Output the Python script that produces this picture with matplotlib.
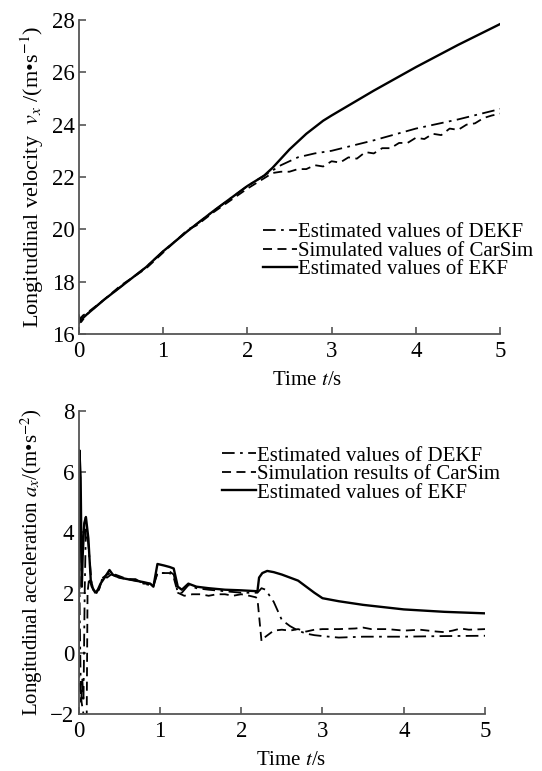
import matplotlib
matplotlib.use("Agg")
import matplotlib.pyplot as plt

plt.rcParams['font.family'] = ['Liberation Serif', 'DejaVu Serif']
plt.rcParams['mathtext.fontset'] = 'stix'

# longitudinal velocity, m/s
t_v_dekf = [0, 0.03, 0.1, 0.3, 0.5, 0.8, 1.0, 1.3, 1.6, 2.0, 2.2, 2.4, 2.6, 2.8, 3.0, 3.5, 4.0, 4.5, 5.0]
v_dekf = [16.75, 16.45, 16.75, 17.3, 17.8, 18.55, 19.15, 19.95, 20.7, 21.65, 22.05, 22.45, 22.75, 22.9, 23.0, 23.4, 23.85, 24.2, 24.6]

t_v_carsim = [0, 0.05, 0.1, 0.3, 0.5, 0.8, 1.0, 1.3, 1.4, 1.6, 2.0, 2.2, 2.3, 2.4, 2.5, 2.6, 2.7, 2.8, 2.9, 3.0,
              3.1, 3.2, 3.3, 3.4, 3.5, 3.6, 3.7, 3.8, 3.9, 4.0, 4.1, 4.2, 4.3, 4.4, 4.5, 4.6, 4.7, 4.8, 4.9, 5.0]
v_carsim = [16.5, 16.7, 16.8, 17.3, 17.85, 18.5, 19.1, 20.0, 20.15, 20.65, 21.55, 21.95, 22.15, 22.2, 22.2, 22.3,
            22.3, 22.45, 22.4, 22.6, 22.55, 22.75, 22.7, 22.95, 22.9, 23.1, 23.1, 23.3, 23.3, 23.5, 23.45, 23.65,
            23.6, 23.85, 23.8, 24.0, 24.05, 24.25, 24.35, 24.42]

t_v_ekf = [0, 0.05, 0.1, 0.3, 0.5, 0.8, 1.0, 1.3, 1.6, 2.0, 2.2, 2.3, 2.4, 2.5, 2.6, 2.7, 2.8, 2.9, 3.0, 3.5, 4.0, 4.5, 5.0]
v_ekf = [16.4, 16.6, 16.75, 17.3, 17.8, 18.55, 19.15, 19.95, 20.7, 21.65, 22.05, 22.35, 22.7, 23.05, 23.35, 23.65,
         23.9, 24.15, 24.35, 25.3, 26.2, 27.05, 27.85]

# longitudinal acceleration, m/s^2
t_a_dekf = [0, 0.015, 0.03, 0.045, 0.06, 0.075, 0.09, 0.12, 0.16, 0.2, 0.25, 0.3, 0.35, 0.4, 0.45, 0.5, 0.6,
            0.7, 0.8, 0.88, 0.92, 0.97, 1.05, 1.12, 1.17, 1.22, 1.27, 1.35, 1.45, 1.6, 1.8, 2.0, 2.2, 2.25, 2.3,
            2.4, 2.5, 2.6, 2.7, 2.8, 2.9, 3.0, 3.2, 3.5, 4.0, 4.5, 5.0]
a_dekf = [6.0, 1.0, -1.7, -0.8, -1.6, 2.0, 4.2, 3.6, 2.3, 2.0, 2.1, 2.55, 2.5, 2.6, 2.55, 2.5, 2.45, 2.45, 2.3,
          2.25, 2.2, 2.65, 2.65, 2.7, 2.6, 2.0, 2.0, 2.25, 2.15, 2.1, 2.05, 2.0, 2.0, 2.15, 2.1, 1.7, 1.1, 0.9,
          0.75, 0.65, 0.6, 0.57, 0.52, 0.55, 0.55, 0.57, 0.58]

t_a_carsim = [0, 0.03, 0.06, 0.1, 0.11, 0.13, 0.16, 0.2, 0.25, 0.3, 0.35, 0.4, 0.5, 0.6, 0.7, 0.8, 0.88, 0.92,
              0.97, 1.05, 1.12, 1.17, 1.22, 1.3, 1.4, 1.5, 1.6, 1.7, 1.8, 1.9, 2.0, 2.1, 2.18, 2.2, 2.25, 2.3,
              2.4, 2.5, 2.6, 2.7, 2.8, 2.9, 3.0, 3.2, 3.4, 3.5, 3.6, 3.8, 4.0, 4.2, 4.4, 4.5, 4.6, 4.7, 4.8, 5.0]
a_carsim = [-0.5, -1.5, -2.0, -2.0, 2.0, 2.5, 2.2, 2.05, 2.1, 2.5, 2.6, 2.65, 2.55, 2.45, 2.4, 2.3, 2.3, 2.25,
            2.65, 2.65, 2.65, 2.5, 2.0, 1.9, 1.95, 1.95, 1.9, 1.95, 1.95, 1.9, 1.95, 1.9, 1.85, 1.8, 0.4, 0.55,
            0.75, 0.78, 0.75, 0.8, 0.72, 0.78, 0.8, 0.8, 0.82, 0.85, 0.8, 0.8, 0.75, 0.78, 0.72, 0.7, 0.75, 0.82,
            0.78, 0.8]

t_a_ekf = [0, 0.01, 0.025, 0.04, 0.05, 0.07, 0.09, 0.12, 0.15, 0.18, 0.22, 0.27, 0.32, 0.38, 0.42, 0.5, 0.6,
           0.7, 0.8, 0.88, 0.92, 0.97, 1.05, 1.12, 1.17, 1.22, 1.27, 1.35, 1.45, 1.6, 1.8, 2.0, 2.2, 2.22, 2.26,
           2.32, 2.4, 2.5, 2.6, 2.7, 2.8, 2.9, 3.0, 3.2, 3.5, 4.0, 4.5, 5.0]
a_ekf = [-0.5, 6.7, 5.8, 2.2, 3.2, 4.3, 4.5, 3.8, 2.4, 2.1, 2.0, 2.3, 2.5, 2.75, 2.6, 2.5, 2.45, 2.4, 2.35, 2.3,
         2.2, 2.95, 2.9, 2.85, 2.8, 2.2, 2.1, 2.3, 2.2, 2.15, 2.1, 2.08, 2.05, 2.5, 2.65, 2.72, 2.68, 2.6, 2.5,
         2.4, 2.2, 2.0, 1.82, 1.72, 1.6, 1.45, 1.37, 1.32]

x_ticks = [0, 1, 2, 3, 4, 5]
v_ticks = [16, 18, 20, 22, 24, 26, 28]
a_ticks = [-2, 0, 2, 4, 6, 8]

dashdot = (0, (7, 3, 1.5, 3))
dashed = (0, (5, 3))
spine_c = '#555555'


def style_axes(ax, label_x, label_y):
    for s in ['top', 'right']:
        ax.spines[s].set_visible(False)
    for s in ['left', 'bottom']:
        ax.spines[s].set_color(spine_c)
        ax.spines[s].set_linewidth(1.3)
    ax.tick_params(direction='in', length=5, width=1.2, color=spine_c, labelsize=16.5)
    ax.tick_params(axis='x', pad=5)
    ax.tick_params(axis='y', pad=3)
    ax.set_xlim(0, 5)
    ax.set_xticks(x_ticks)
    ax.set_xlabel('Time $t$/s', fontsize=15)
    ax.xaxis.set_label_coords(label_x, label_y)


fig = plt.figure(figsize=(5.42, 7.71), dpi=100)

# velocity panel
ax1 = fig.add_axes([0.145, 0.567, 0.778, 0.407])
ax1.plot(t_v_dekf, v_dekf, color='black', lw=1.3, ls=dashdot, label='Estimated values of DEKF')
ax1.plot(t_v_carsim, v_carsim, color='black', lw=1.3, ls=dashed, label='Simulated values of CarSim')
ax1.plot(t_v_ekf, v_ekf, color='black', lw=1.7, label='Estimated values of EKF')
style_axes(ax1, 0.542, -0.118)
ax1.set_ylim(16, 28)
ax1.set_yticks(v_ticks)
ax1.set_ylabel('Longitudinal velocity  $v_x$ /(m\u2022s$^{-1}$)', fontsize=16, labelpad=4)
ax1.legend(loc='upper left', bbox_to_anchor=(0.438, 0.354), frameon=False, fontsize=15,
           handlelength=1.63, handletextpad=0.05, labelspacing=-0.05, borderpad=0, borderaxespad=0)

# acceleration panel
ax2 = fig.add_axes([0.145, 0.074, 0.75, 0.393])
ax2.plot(t_a_dekf, a_dekf, color='black', lw=1.3, ls=dashdot, label='Estimated values of DEKF')
ax2.plot(t_a_carsim, a_carsim, color='black', lw=1.3, ls=dashed, label='Simulation results of CarSim')
ax2.plot(t_a_ekf, a_ekf, color='black', lw=1.7, label='Estimated values of EKF')
style_axes(ax2, 0.523, -0.122)
ax2.set_ylim(-2, 8)
ax2.set_yticks(a_ticks)
ax2.set_yticklabels(['\u22122', '0', '2', '4', '6', '8'])
ax2.set_ylabel('Longitudinal acceleration $a_x$/(m\u2022s$^{-2}$)', fontsize=15, labelpad=4)
ax2.legend(loc='upper left', bbox_to_anchor=(0.353, 0.884), frameon=False, fontsize=15,
           handlelength=1.63, handletextpad=0.05, labelspacing=-0.05, borderpad=0, borderaxespad=0)

fig.savefig('out.png', dpi=100)
